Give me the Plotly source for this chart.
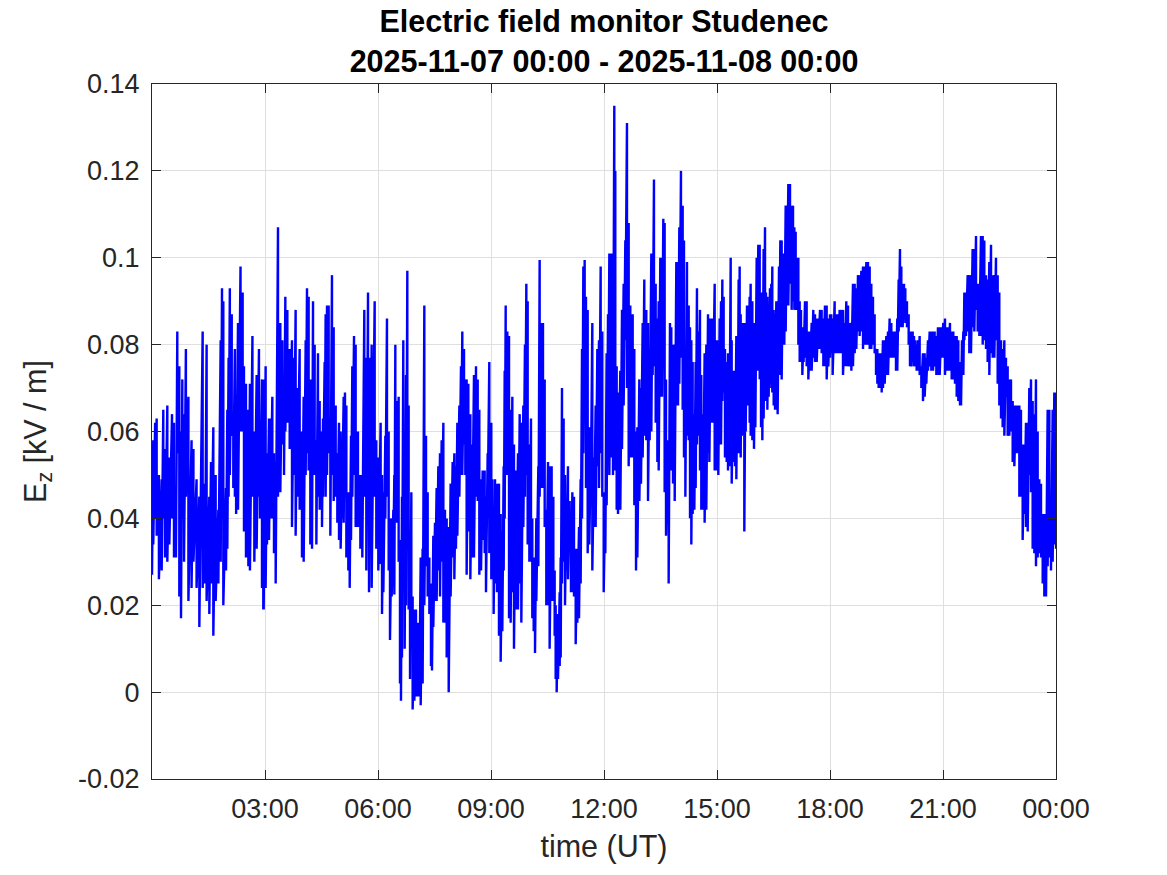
import pandas as pd
import plotly.graph_objects as go

# Vertical electric field (kV/m), Studenec, 2025-11-07 UT.
# Values: for each time (minutes after midnight) the
# upper and lower excursion of the dense trace.
MINUTES = [
    0, 2, 5, 7.4, 11, 15.4, 18, 20.7, 24.4, 27.6, 31.9, 35, 38.2, 40.3, 43.5,
    46.2, 48.3, 51, 54, 58, 63, 66, 71, 75.4, 80.7, 84.4, 87, 91.3, 94, 97.7,
    101.4, 105.7, 109.4, 111.5, 113.6, 117.9, 120, 122, 124, 127, 129.5, 132, 134, 137, 141,
    144.4, 146.5, 149.7, 153.5, 156, 160, 163, 166.7, 170.4, 172, 175.2, 177.3,
    177.9, 181.0, 183.2, 186.4, 188.5, 191.7, 194.3, 197.0, 200.7, 204.4,
    207.6, 210.3, 212.4, 215.6, 219.3, 223.0, 226.2, 228.8, 231.5, 235.2,
    238.9, 241.6, 244.8, 246.9, 249.5, 252.2, 254.9, 256.5, 259.1, 261.8,
    264.4, 267.1, 270.8, 272.4, 275.0, 276.6, 278.8, 281.4, 284.1, 286.7,
    289.4, 292.6, 295.2, 297.9, 300.5, 302.6, 305.3, 307.4, 309.6, 312.7,
    314.9, 317.0, 319.1, 321.8, 324.4, 328.1, 331.9, 335.0, 338.2, 341.4,
    344.1, 345.7, 347.8, 349.9, 354.7, 357.3, 360.5,
    364.2, 366.4, 368.5, 371.7, 374.3, 377.0, 379.1, 381.8, 384.4, 386.0,
    387.6, 390.3, 392.9, 395.0, 396.6, 398.2, 400.3, 402.5, 404.6, 406.7,
    408.8, 411.0, 413.1, 415.2, 417.9, 420.5, 423.2, 425.8, 428.0, 431.1,
    433.8, 436.5, 439.1, 441.8, 444.4, 446.0, 448.1, 450.8, 453.4, 456.1,
    458.8, 461.4, 464.1, 466.7, 469.4, 472.6, 475.7, 478.9, 481.6, 484.2,
    486.4, 489.6, 492.2, 494.3, 497.0, 499.1, 501.2, 503.9, 507.1, 509.7,
    512.9, 516.1, 518.8, 521.4, 524.1, 526.7, 529.9, 532.0, 534.7, 537.3,
    540.5,
    542.1, 544.2, 546.4, 549.5, 552.7, 555.4, 558.0, 560.2, 561.8, 563.4,
    566.0, 568.7, 571.3, 574.0, 576.6, 579.3, 583.0, 585.7, 588.3, 591.5,
    594.1, 596.3, 598.4, 601.1, 603.7, 605.8, 608.0, 610.1, 612.2, 615.4,
    617.5, 620.2, 622.8, 625.5, 628.1, 630.8, 633.4, 636.6, 639.3, 641.4,
    643.0, 644.6, 646.7, 649.4, 651.0, 653.1, 655.7, 657.9, 660.0, 662.6,
    665.3, 667.4, 669.6, 672.2, 674.9, 677.5, 680.2, 682.8, 685.0, 687.1,
    689.2, 691.3, 694.0, 696.6, 698.8, 701.4, 704.1, 706.7, 709.4, 712.0,
    714.7, 717.3, 719.5,
    722.1, 724.2, 726.4, 728.5, 731.7, 734.3, 736.4, 738.0, 740.2, 742.3,
    746.0, 748.7, 751.3, 754.0, 756.6, 759.3, 761.9, 765.7, 768.3, 771.0,
    773.1, 776.3, 778.9, 781.6, 784.2, 787.4, 790.1, 792.7, 795.4, 797.5,
    799.6, 802.3, 805.0, 807.1, 809.7, 812.4, 814.5, 816.6, 818.8, 821.4,
    823.0, 825.1, 827.2, 829.9, 832.6, 835.2, 837.9, 840.0, 842.6, 845.3,
    847.4, 849.6, 852.2, 854.9, 857.0, 859.1, 861.2, 863.9, 866.0, 868.1,
    870.3, 872.9, 875.0, 877.7, 880.3, 883.0, 885.7, 887.8, 890.4, 893.1,
    896.3,
    900.0, 902.1, 904.2, 906.4, 908.5, 910.6, 912.7, 915.4, 917.5, 919.6,
    921.8, 923.4, 926.0, 928.7, 930.8, 932.9, 934.5, 936.1, 937.7, 939.3,
    941.9, 943.5, 945.7, 947.8, 949.9, 952.0, 953.6, 956.3, 958.9, 961.1,
    963.2, 965.8, 968.0, 970.1, 972.2, 974.3, 976.5, 978.0, 980.2, 982.3,
    984.4, 986.5, 988.1, 990.3, 992.4, 994.5, 996.6, 998.8, 1000.9, 1003.0,
    1005.1, 1007.2, 1009.4, 1011.5, 1013.6, 1016.3, 1018.9, 1021.1, 1023.2, 1025.3,
    1027.4, 1029.6, 1031.7, 1033.8, 1035.9, 1038.0, 1040.2, 1042.8, 1045.5, 1048.1,
    1050.8, 1053.4, 1056.1, 1058.8, 1061.4, 1064.1, 1066.7, 1069.4, 1072.0, 1074.7,
    1077.3,
    1080.0, 1082.1, 1084.2, 1087.4, 1090.1, 1092.7, 1095.4, 1098.0, 1100.7, 1103.4,
    1106.0, 1108.7, 1111.3, 1114.0, 1116.6, 1119.3, 1121.9, 1124.6, 1127.2, 1129.9,
    1132.6, 1135.2, 1137.9, 1140.5, 1143.2, 1145.8, 1148.5, 1151.1, 1153.3, 1155.4,
    1157.5, 1160.2, 1162.3, 1164.4, 1167.1, 1169.7, 1172.4, 1175.0, 1177.7, 1180.3,
    1183.0, 1185.1, 1187.2, 1189.4, 1191.5, 1193.6, 1195.7, 1197.9, 1200.0, 1202.6,
    1205.3, 1207.4, 1209.6, 1211.7, 1213.8, 1215.9, 1218.0, 1220.2, 1222.8, 1225.5,
    1228.1, 1230.8, 1233.4, 1236.1, 1238.8, 1241.4, 1244.1, 1246.7, 1249.4, 1252.0,
    1254.7, 1257.3,
    1260.5, 1263.2, 1265.8, 1268.5, 1271.1, 1273.8, 1276.4, 1279.1, 1281.8, 1284.4,
    1287.1, 1288.7, 1290.3, 1292.4, 1294.0, 1296.6, 1299.3, 1301.9, 1304.6, 1307.2,
    1309.9, 1312.6, 1315.2, 1317.9, 1320.5, 1323.2, 1325.8, 1328.5, 1331.1, 1333.8,
    1336.5, 1339.1, 1341.8, 1344.4, 1347.1, 1349.7, 1352.4, 1355.0, 1357.7, 1360.3,
    1363.0, 1365.7, 1368.3, 1371.0, 1373.6, 1376.3, 1378.9, 1381.6, 1384.2, 1386.9,
    1389.6, 1392.2, 1394.9, 1397.5, 1400.2, 1402.8, 1405.5, 1408.1, 1410.8, 1413.4,
    1416.1, 1418.8, 1421.4, 1424.1, 1426.7, 1429.4, 1432.0, 1434.7, 1437.3, 1440.0,
]

EZ_PEAK = [
    .041, .058, .062, .063, .050, .049, .065, .056, .066, .054, .064, .062, .041, .083, .075,
    .060, .072, .064, .079, .068, .058, .056, .049, .045, .083, .048, .080, .045, .053, .061,
    .050, .042, .081, .093, .090, .047, .065, .077, .093, .087, .060, .079, .065, .085, .098,
    .092, .075, .071, .065, .071, .082, .060, .073, .079, .060, .072, .060,
    .072, .075, .055, .063, .063, .068, .055, .053, .107, .085,
    .081, .070, .091, .088, .079, .081, .077, .088, .070, .079,
    .060, .068, .081, .093, .091, .072, .060, .090, .080, .058,
    .078, .067, .060, .063, .076, .087, .089, .089, .060, .096,
    .084, .066, .055, .062, .060, .052, .068, .069, .066, .046,
    .040, .059, .075, .082, .080, .060, .050, .050, .088, .077,
    .092, .060, .077, .080, .090, .058, .054,
    .062, .050, .046, .059, .086, .060, .040, .040, .042, .050,
    .080, .067, .068, .035, .020, .045, .081, .060, .073, .097,
    .066, .030, .046, .022, .019, .019, .016, .011, .031, .033,
    .089, .059, .046, .031, .025, .016, .036, .039, .047, .052,
    .055, .058, .062, .042, .040, .038, .048, .053, .055, .052,
    .062, .066, .075, .083, .079, .072, .072, .071, .064, .057,
    .073, .075, .072, .065, .049, .051, .051, .045, .055, .076,
    .062,
    .049, .040, .049, .048, .048, .041, .037, .052, .074, .089,
    .083, .082, .065, .068, .057, .051, .055, .064, .062, .066,
    .080, .094, .090, .057, .063, .040, .031, .029, .040, .052,
    .0995, .085, .085, .072, .042, .053, .052, .052, .045, .028,
    .020, .012, .018, .023, .031, .070, .063, .050, .044, .052,
    .044, .040, .046, .045, .033, .033, .038, .049, .079, .098,
    .0995, .091, .088, .061, .055, .085, .054, .066, .079, .081,
    .098, .083, .046,
    .045, .078, .087, .101, .101, .070, .135, .120, .075, .069,
    .074, .088, .094, .104, .131, .108, .089, .087, .079, .060,
    .061, .072, .070, .085, .095, .088, .085, .079, .101, .101,
    .118, .094, .086, .090, .100, .100, .109, .108, .072, .058,
    .050, .085, .084, .080, .080, .099, .099, .107, .120, .112,
    .104, .076, .099, .089, .084, .081, .076, .064, .076, .093,
    .083, .088, .073, .064, .078, .080, .087, .086, .086, .086,
    .094,
    .081, .078, .086, .090, .095, .091, .079, .076, .078, .078,
    .100, .081, .074, .074, .082, .082, .095, .098, .087, .085,
    .085, .060, .085, .089, .089, .091, .094, .090, .085, .085,
    .100, .103, .103, .092, .092, .102, .107, .092, .091, .089,
    .093, .094, .098, .088, .087, .090, .090, .098, .104, .104,
    .101, .101, .112, .112, .117, .117, .112, .112, .107, .106,
    .100, .100, .090, .088, .084, .083, .090, .090, .083, .083,
    .085, .088, .087, .086, .086, .088, .088, .086, .089, .089,
    .086,
    .087, .087, .086, .090, .087, .087, .088, .088, .088, .085,
    .090, .089, .085, .085, .094, .094, .093, .096, .096, .097,
    .098, .098, .099, .099, .098, .094, .091, .087, .079, .079,
    .078, .078, .078, .081, .081, .082, .083, .086, .085, .083,
    .083, .082, .086, .095, .102, .098, .094, .094, .093, .090,
    .087, .083, .083, .083, .082, .081, .080, .081, .082, .075,
    .078, .078, .077, .081, .083, .083, .083, .083, .082, .084,
    .084, .084,
    .085, .086, .084, .084, .085, .083, .083, .082, .082, .081,
    .076, .076, .081, .083, .092, .092, .096, .096, .096, .102,
    .102, .105, .094, .094, .105, .105, .104, .096, .095, .099,
    .103, .096, .096, .100, .096, .092, .081, .079, .081, .077,
    .075, .072, .072, .067, .066, .066, .066, .066, .065, .057,
    .057, .062, .062, .070, .072, .067, .064, .072, .060, .049,
    .048, .041, .041, .039, .065, .065, .039, .065, .069, .069,
]

EZ_TROUGH = [
    .027, .034, .040, .036, .026, .028, .040, .031, .030, .034, .040, .031, .031, .055, .022,
    .017, .040, .030, .045, .021, .024, .030, .024, .015, .024, .025, .021, .018, .025, .013,
    .021, .025, .030, .040, .020, .028, .033, .045, .050, .059, .047, .045, .041, .042, .060,
    .060, .037, .031, .029, .028, .045, .030, .033, .045, .040, .024, .019,
    .019, .024, .034, .035, .040, .040, .032, .025, .045, .046,
    .057, .050, .060, .062, .056, .038, .050, .036, .045, .042,
    .031, .030, .050, .055, .051, .034, .033, .050, .050, .034,
    .045, .042, .038, .045, .050, .045, .050, .055, .036, .050,
    .044, .045, .039, .035, .033, .040, .039, .045, .031, .028,
    .024, .035, .045, .050, .038, .038, .033, .031, .045, .028,
    .040, .023, .040, .024, .045, .033, .028,
    .0295, .018, .023, .040, .045, .028, .012, .022, .030, .0225,
    .040, .039, .030, .002, -.002, .008, .030, .010, .020, .035,
    .019, .003, .020, -.004, -.002, -.001, -.001, -.001, -.003, .002,
    .020, .029, .022, .018, .006, .005, .015, .021, .021, .028,
    .022, .030, .016, .016, .008, .000, .022, .031, .026, .033,
    .036, .045, .050, .050, .057, .050, .027, .037, .026, .031,
    .031, .045, .044, .027, .028, .035, .032, .023, .042, .032,
    .026,
    .026, .018, .025, .023, .013, .007, .014, .028, .040, .050,
    .050, .017, .016, .023, .010, .019, .019, .025, .016, .038,
    .045, .050, .034, .030, .030, .017, .014, .009, .021, .029,
    .045, .047, .047, .038, .020, .020, .010, .021, .021, .013,
    .003, .000, .003, .006, .008, .025, .030, .020, .028, .026,
    .035, .023, .023, .022, .011, .016, .017, .025, .040, .055,
    .078, .047, .032, .034, .043, .028, .038, .038, .052, .047,
    .055, .045, .023,
    .032, .043, .053, .050, .054, .050, .060, .051, .042, .041,
    .042, .056, .066, .081, .070, .052, .054, .054, .043, .028,
    .031, .044, .048, .054, .059, .058, .044, .058, .060, .073,
    .075, .062, .053, .051, .068, .068, .075, .046, .036, .040,
    .025, .059, .051, .048, .044, .066, .066, .071, .077, .065,
    .054, .045, .059, .058, .040, .034, .041, .042, .047, .057,
    .059, .051, .042, .042, .039, .042, .055, .053, .062, .062,
    .051,
    .051, .050, .057, .057, .067, .069, .054, .053, .051, .052,
    .060, .048, .053, .052, .049, .057, .055, .065, .054, .059,
    .059, .037, .060, .067, .066, .062, .059, .058, .056, .061,
    .074, .074, .072, .061, .058, .063, .070, .067, .065, .068,
    .071, .070, .069, .066, .065, .065, .064, .073, .073, .072,
    .080, .080, .083, .090, .089, .094, .088, .090, .088, .088,
    .088, .080, .076, .076, .073, .076, .077, .075, .072, .074,
    .074, .077, .076, .076, .079, .079, .078, .075, .075, .072,
    .075,
    .077, .078, .073, .078, .078, .078, .078, .078, .073, .075,
    .075, .075, .075, .074, .075, .078, .079, .083, .082, .083,
    .079, .080, .080, .080, .079, .079, .080, .078, .073, .071,
    .070, .070, .069, .070, .071, .073, .073, .077, .077, .077,
    .077, .074, .074, .083, .084, .084, .084, .086, .085, .084,
    .080, .075, .075, .076, .075, .075, .074, .074, .073, .070,
    .067, .068, .071, .074, .075, .074, .074, .075, .073, .073,
    .073, .077,
    .077, .073, .074, .074, .074, .072, .072, .071, .068, .067,
    .066, .066, .073, .073, .081, .082, .083, .078, .078, .084,
    .083, .088, .083, .082, .082, .080, .081, .079, .076, .073,
    .078, .077, .077, .081, .071, .066, .063, .061, .059, .068,
    .059, .059, .060, .053, .052, .055, .055, .045, .045, .035,
    .041, .038, .037, .050, .046, .033, .032, .029, .031, .032,
    .031, .025, .022, .022, .029, .031, .028, .030, .034, .033,
]

TICK_HOURS = [3, 6, 9, 12, 15, 18, 21, 24]
TICK_LABELS = ["03:00", "06:00", "09:00", "12:00", "15:00", "18:00", "21:00", "00:00"]
Y_TICKS = [-0.02, 0, 0.02, 0.04, 0.06, 0.08, 0.1, 0.12, 0.14]
Y_LABELS = ["-0.02", "0", "0.02", "0.04", "0.06", "0.08", "0.1", "0.12", "0.14"]

assert len(MINUTES) == len(EZ_PEAK) == len(EZ_TROUGH)

day = pd.Timestamp("2025-11-07 00:00")

# zig-zag between the upper and lower excursion at every sample
x_min, y_val = [], []
for t, hi, lo in zip(MINUTES, EZ_PEAK, EZ_TROUGH):
    x_min += [t, t]
    y_val += [hi, lo]
times = day + pd.to_timedelta(x_min, unit="min")

FONT = "Liberation Sans, Arial, Helvetica, sans-serif"
AX = "#262626"
GRID = "#dfdfdf"

fig = go.Figure(go.Scatter(
    x=times, y=y_val, mode="lines",
    line=dict(color="#0000ff", width=2.4),
    showlegend=False,
))

axis_common = dict(
    showline=True, linecolor=AX, linewidth=1, mirror="allticks",
    ticks="inside", ticklen=9, tickcolor=AX, tickwidth=1,
    showgrid=True, gridcolor=GRID, gridwidth=1, zeroline=False,
    tickfont=dict(family=FONT, size=27, color=AX),
)

# the page body adds an 8px offset, so the margins are trimmed to land the
# axes box at the same place as the reference
fig.update_layout(
    width=1167, height=875,
    paper_bgcolor="white", plot_bgcolor="white",
    margin=dict(l=144, r=119, t=76, b=104),
    font=dict(family=FONT, color=AX),
    title=dict(
        text="<b>Electric field monitor Studenec</b><br><b>2025-11-07 00:00 - 2025-11-08 00:00</b>",
        font=dict(family=FONT, size=30.5, color="black"),
        x=0.5, xref="paper", xanchor="center",
        y=1 - 24 / 875, yref="container", yanchor="top",
    ),
    xaxis=dict(
        **axis_common,
        type="date",
        range=[day, day + pd.Timedelta(hours=24)],
        tickvals=[day + pd.Timedelta(hours=h) for h in TICK_HOURS],
        ticktext=TICK_LABELS,
        ticklabelstandoff=6,
        title=dict(text="time (UT)", font=dict(family=FONT, size=30.5, color=AX), standoff=12),
    ),
    yaxis=dict(
        **axis_common,
        range=[-0.02, 0.14],
        tickvals=Y_TICKS,
        ticktext=Y_LABELS,
        ticklabelstandoff=6,
        title=dict(text="E<sub>z</sub> [kV / m]", font=dict(family=FONT, size=30.5, color=AX), standoff=22),
    ),
)

fig.write_html("out.html")
